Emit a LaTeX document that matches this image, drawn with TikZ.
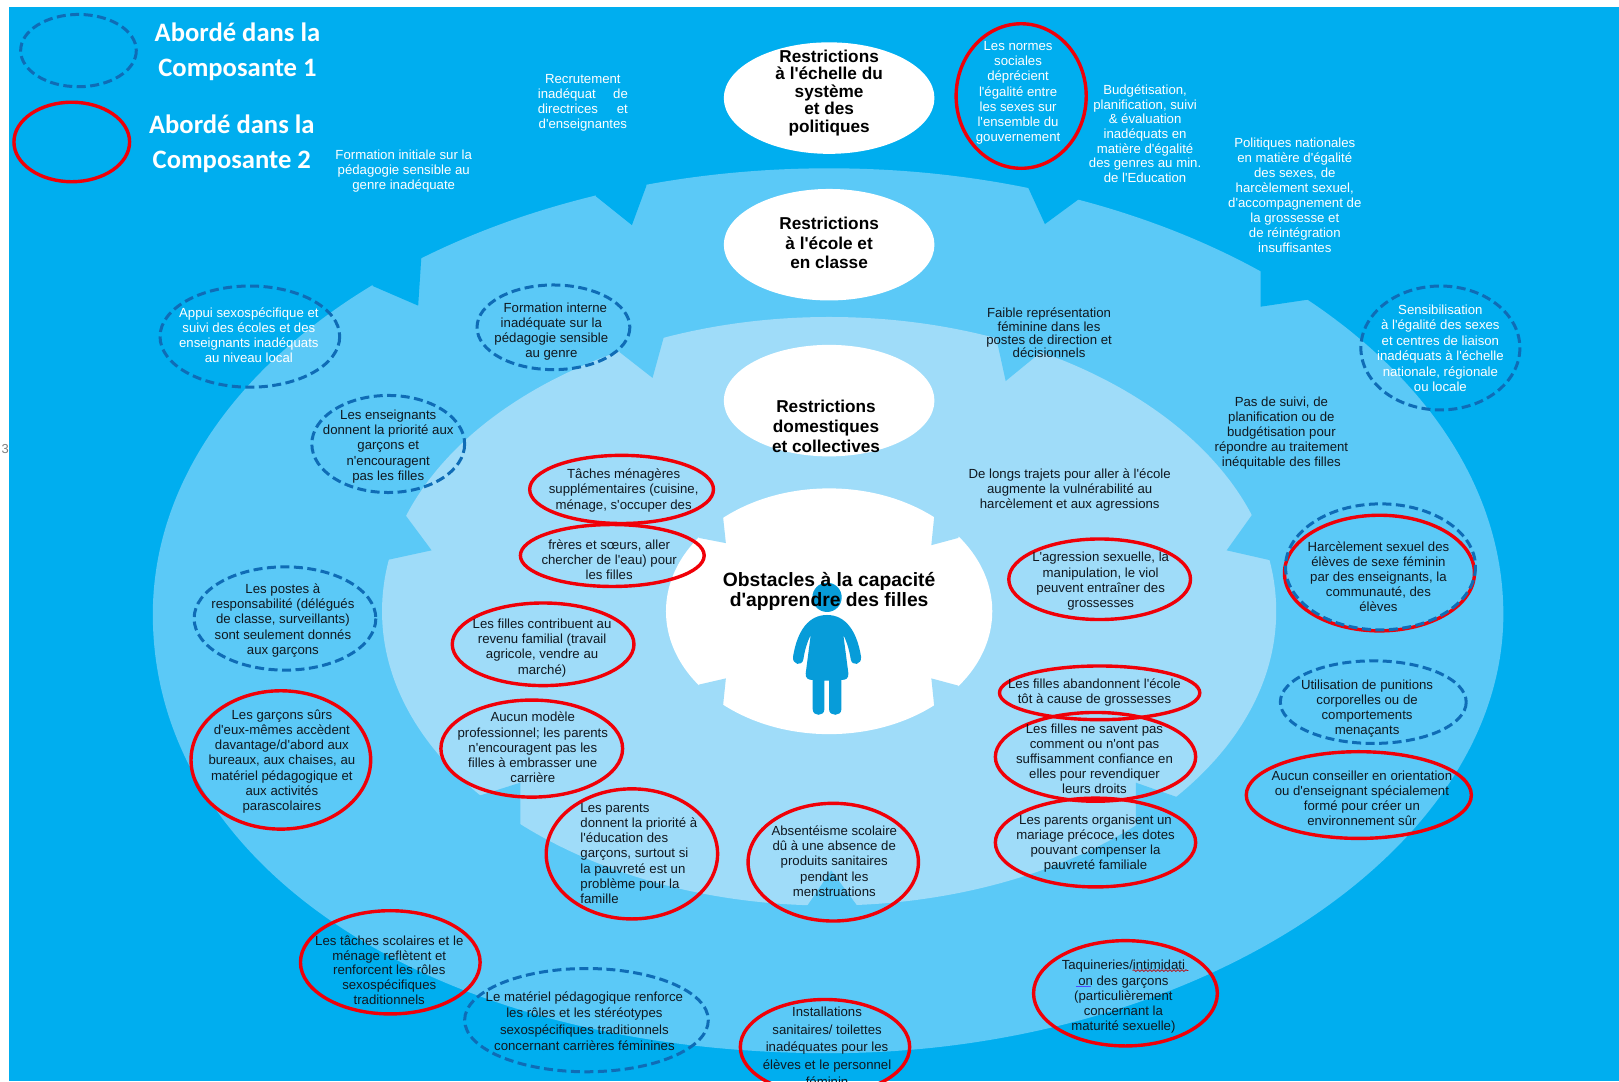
\documentclass[tikz,border=0pt]{standalone}
\usepackage{fontspec}
\setmainfont{Liberation Sans}[Ligatures=TeXOff]
\newfontfamily\calib{Carlito}
\usetikzlibrary{decorations.pathmorphing}
\definecolor{bgblue}{HTML}{00AEEF}
\definecolor{ringone}{HTML}{5BC9F7}
\definecolor{ringtwo}{HTML}{9FDCF9}
\definecolor{girl}{HTML}{079CD9}
\definecolor{dashblue}{HTML}{0F6CB6}
\definecolor{redline}{HTML}{F00008}
\definecolor{inktext}{HTML}{101820}
\tikzset{
  reddisc/.style={draw=redline,line width=3.4pt},
  dashdisc/.style={draw=dashblue,line width=3pt,dash pattern=on 9pt off 4.5pt},
  lab/.style={inner sep=0pt,align=center,yshift=-1.5pt,font=\fontsize{13.2}{15.2}\selectfont},
  blacklab/.style={lab,text=inktext},
  whitelab/.style={lab,text=white},
  headlab/.style={inner sep=0pt,align=center,text=black,font=\fontsize{17.2}{19.6}\bfseries\selectfont},
  legendlab/.style={inner sep=0pt,align=center,text=white,yshift=-2pt,font=\calib\fontsize{26.6}{35}\bfseries\selectfont},
  whiteoval/.style={fill=white,draw=none},
}
\begin{document}
\begin{tikzpicture}[x=1.03253pt,y=-1.03253pt]
\useasboundingbox (0,0) rectangle (1568,1047);
\clip (0,0) rectangle (1568,1047);
\fill[white] (0,0) rectangle (1568,1047);
\fill[bgblue] (9,7) rectangle (1568,1047);
% outer ring
\fill[ringone] (148,595) .. controls (148,356) and (441,163) .. (803,163)
  .. controls (1164,163) and (1456,356) .. (1456,595)
  .. controls (1456,825) and (1156,1020) .. (803,1020)
  .. controls (423,1020) and (148,842) .. (148,595) -- cycle;
\fill[bgblue] (577,190) -- (612,218) -- (626,180) -- (626,150) -- (577,150) -- cycle;
\fill[bgblue] (361,277) -- (405,296) -- (408,250) -- (408,230) -- (361,230) -- cycle;
\fill[bgblue] (995,180) -- (1012,217) -- (1046,192) -- (1046,150) -- (995,150) -- cycle;
\fill[bgblue] (1221,262) -- (1221,297) -- (1268,290) -- (1268,240) -- (1221,240) -- cycle;
% middle ring
\fill[ringtwo] (803,592) ellipse (433 and 285);
\fill[ringone] (600,341) -- (632,366) -- (643,326) -- (643,300) -- (600,300) -- cycle;
\fill[ringone] (965,328) -- (974,369) -- (1007,342) -- (1007,300) -- (965,300) -- cycle;
\fill[ringone] (392,498) -- (418,533) -- (372,543) -- (365,520) -- cycle;
\fill[ringone] (1213,498) -- (1188,533) -- (1232,543) -- (1240,520) -- cycle;
\fill[ringone] (463,771) -- (504,758) -- (504,830) -- (463,830) -- cycle;
\fill[ringone] (1140,772) -- (1100,758) -- (1100,830) -- (1140,830) -- cycle;
\fill[ringone] (782,877) -- (805,843) -- (830,877) -- (830,890) -- (782,890) -- cycle;
% centre
\fill[white] (803,592) ellipse (158 and 119);
\fill[ringtwo] (700,498) -- (703,526) -- (677,521) -- (672,505) -- cycle;
\fill[ringtwo] (905,498) -- (902,528) -- (928,521) -- (934,505) -- cycle;
\fill[ringtwo] (677,663) -- (703,657) -- (700,686) -- (672,680) -- cycle;
\fill[ringtwo] (928,664) -- (902,657) -- (905,686) -- (934,680) -- cycle;
% girl (units: reference pixels x 3)
\begin{scope}[shift={(619.9,445.5)},x=0.3333pt,y=-0.3333pt]
\fill[girl] (561,412) circle (44);
\fill[girl] (561,465) .. controls (615,465) and (650,510) .. (663,590)
  .. controls (666,615) and (636,620) .. (632,598)
  .. controls (628,570) and (620,545) .. (610,525)
  -- (625,640) .. controls (626,655) and (618,660) .. (604,660)
  -- (604,748) .. controls (604,770) and (567,770) .. (567,748)
  -- (567,662) -- (553,662)
  -- (553,748) .. controls (553,770) and (518,770) .. (518,748)
  -- (518,660) .. controls (504,660) and (496,655) .. (497,640)
  -- (512,525) .. controls (502,545) and (494,570) .. (490,598)
  .. controls (486,620) and (456,615) .. (459,590)
  .. controls (472,510) and (507,465) .. (561,465) -- cycle;
\end{scope}
% white ovals
\fill[whiteoval] (803,95) ellipse (102 and 54);
\fill[whiteoval] (803,237) ellipse (102 and 54);
\fill[whiteoval] (803,388) ellipse (102 and 54);
% outlines
\draw[dashdisc] (76,49) ellipse (56 and 35);
\draw[reddisc] (69.5,137.5) ellipse (56 and 38.5);
\draw[reddisc] (989,93) ellipse (63 and 70);
\draw[dashdisc] (242,326) ellipse (87 and 49);
\draw[dashdisc] (536,317) ellipse (74 and 41);
\draw[dashdisc] (1395,337) ellipse (77 and 60);
\draw[dashdisc] (376,430) ellipse (74 and 47);
\draw[reddisc] (602,474) ellipse (89 and 33);
\draw[reddisc] (593,538) ellipse (89 and 30);
\draw[dashdisc] (276,599) ellipse (88 and 50);
\draw[reddisc] (526,624) ellipse (88 and 40);
\draw[reddisc] (515,725) ellipse (88 and 47);
\draw[reddisc] (272,736) ellipse (87 and 67);
\draw[reddisc] (612,827) ellipse (83 and 63);
\draw[reddisc] (807,835) ellipse (82.5 and 57);
\draw[reddisc] (799,1014) ellipse (82 and 46);
\draw[reddisc] (378,932) ellipse (87 and 50);
\draw[dashdisc] (568,988) ellipse (118 and 50);
\draw[reddisc] (1090,962) ellipse (89 and 51);
\draw[reddisc] (1065,561) ellipse (88 and 39);
\draw[reddisc] (1065,671) ellipse (97 and 26);
\draw[reddisc] (1061,733) ellipse (97 and 43);
\draw[reddisc] (1061,816) ellipse (97 and 43);
\draw[reddisc] (1336,555) ellipse (92 and 56);
\draw[dashdisc] (1337,549) ellipse (92 and 61);
\draw[dashdisc] (1330,680) ellipse (90 and 40);
\draw[reddisc] (1316,770) ellipse (109 and 42);
% legend
\node[legendlab] (leg1) at (230,48) {Abordé dans la\\Composante 1};
\node[legendlab] (leg2) at (224.5,137) {Abordé dans la\\Composante 2};
% headings
\node[headlab,font=\fontsize{17.2}{17.4}\bfseries\selectfont] (sys) at (803,90) {Restrictions\\à l'échelle du\\système\\et des\\politiques};
\node[headlab] (ecole) at (803,235.5) {Restrictions\\à l'école et\\en classe};
\node[headlab] (dom) at (800,413) {Restrictions\\domestiques\\et collectives};
\node[headlab,font=\fontsize{19.3}{19.6}\bfseries\selectfont] (obst) at (803,572.5) {Obstacles à la capacité\\d'apprendre des filles};
% white labels
\node[whitelab] (t01) at (391,164) {Formation initiale sur la\\pédagogie sensible au\\genre inadéquate};
\node[whitelab] (t02) at (564.5,98) {\makebox[90pt][c]{Recrutement}\\\makebox[90pt][s]{inadéquat\hfill de}\\\makebox[90pt][s]{directrices\hfill et}\\\makebox[90pt][c]{d'enseignantes}};
\node[whitelab] (t03) at (986,88.5) {Les normes\\sociales\\déprécient\\l'égalité entre\\les sexes sur\\l'ensemble du\\gouvernement};
\node[whitelab,font=\fontsize{13.2}{14.7}\selectfont] (t04) at (1109,128) {Budgétisation,\\planification, suivi\\\& évaluation\\inadéquats en\\matière d'égalité\\des genres au min.\\de l'Education};
\node[whitelab,font=\fontsize{13.2}{15}\selectfont] (t05) at (1254,188) {Politiques nationales\\en matière d'égalité\\des sexes, de\\harcèlement sexuel,\\d'accompagnement de\\la grossesse et\\de réintégration\\insuffisantes};
\node[whitelab] (t06) at (241,323) {Appui sexospécifique et\\suivi des écoles et des\\enseignants inadéquats\\au niveau local};
\node[whitelab,font=\fontsize{13.2}{15.5}\selectfont] (t07) at (1395,336) {Sensibilisation\\à l'égalité des sexes\\et centres de liaison\\inadéquats à l'échelle\\nationale, régionale\\ou locale};
% dark labels
\node[blacklab] (t10) at (534,319.5) {\hspace{8pt}Formation interne\\inadéquate sur la\\pédagogie sensible\\au genre};
\node[blacklab,font=\fontsize{13.2}{13.2}\selectfont] (t11) at (1016,321) {Faible représentation\\féminine dans les\\postes de direction et\\décisionnels};
\node[blacklab] (t12) at (1241,418) {Pas de suivi, de\\planification ou de\\budgétisation pour\\répondre au traitement\\inéquitable des filles};
\node[blacklab] (t13) at (376,431) {Les enseignants\\donnent la priorité aux\\garçons et\\n'encouragent\\pas les filles};
\node[blacklab] (t14) at (604,473.5) {Tâches ménagères\\supplémentaires (cuisine,\\ménage, s'occuper des};
\node[blacklab] (t15) at (1036,473) {De longs trajets pour aller à l'école\\augmente la vulnérabilité au\\harcèlement et aux agressions};
\node[blacklab] (t16) at (590,540.5) {frères et sœurs, aller\\chercher de l'eau) pour\\les filles};
\node[blacklab] (t17) at (1066,561.5) {L'agression sexuelle, la\\manipulation, le viol\\peuvent entraîner des\\grossesses};
\node[blacklab] (t18) at (1335,557) {Harcèlement sexuel des\\élèves de sexe féminin\\par des enseignants, la\\communauté, des\\élèves};
\node[blacklab] (t19) at (274,599.5) {Les postes à\\responsabilité (délégués\\de classe, surveillants)\\sont seulement donnés\\aux garçons};
\node[blacklab] (t20) at (525,626) {Les filles contribuent au\\revenu familial (travail\\agricole, vendre au\\marché)};
\node[blacklab] (t21) at (1060,669) {Les filles abandonnent l'école\\tôt à cause de grossesses};
\node[blacklab] (t22) at (1324,685) {Utilisation de punitions\\corporelles ou de\\comportements\\menaçants};
\node[blacklab] (t23) at (1060,733.5) {Les filles ne savent pas\\comment ou n'ont pas\\suffisamment confiance en\\elles pour revendiquer\\leurs droits};
\node[blacklab] (t24) at (516,722.5) {Aucun modèle\\professionnel; les parents\\n'encouragent pas les\\filles à embrasser une\\carrière};
\node[blacklab] (t25) at (273,736) {Les garçons sûrs\\d'eux-mêmes accèdent\\davantage/d'abord aux\\bureaux, aux chaises, au\\matériel pédagogique et\\aux activités\\parascolaires};
\node[blacklab] (t26) at (1319,771.5) {Aucun conseiller en orientation\\ou d'enseignant spécialement\\formé pour créer un\\environnement sûr};
\node[blacklab,align=left,anchor=west] (t27) at (562,825) {Les parents\\donnent la priorité à\\l'éducation des\\garçons, surtout si\\la pauvreté est un\\problème pour la\\famille};
\node[blacklab] (t28) at (808,832.5) {Absentéisme scolaire\\dû à une absence de\\produits sanitaires\\pendant les\\menstruations};
\node[blacklab] (t29) at (1061,815.5) {Les parents organisent un\\mariage précoce, les dotes\\pouvant compenser la\\pauvreté familiale};
\node[blacklab,font=\fontsize{13.2}{14.7}\selectfont] (t30) at (377,938) {Les tâches scolaires et le\\ménage reflètent et\\renforcent les rôles\\sexospécifiques\\traditionnels};
\node[blacklab,font=\fontsize{13.2}{16.2}\selectfont] (t31) at (566,987.5) {Le matériel pédagogique renforce\\les rôles et les stéréotypes\\sexospécifiques traditionnels\\concernant carrières féminines};
\node[blacklab,font=\fontsize{13.2}{17.4}\selectfont] (t32) at (801,1012.5) {Installations\\sanitaires/ toilettes\\inadéquates pour les\\élèves et le personnel\\féminin};
\node[blacklab] (t33) at (1088,964) {Taquineries/intimidati\\on des garçons\\(particulièrement\\concernant la\\maturité sexuelle)};
\coordinate (sqA) at (1097,940);
\coordinate (sqB) at (1151,940);
\coordinate (unA) at (1042,955);
\coordinate (unB) at (1057,955);
\draw[redline!80!black,line width=0.7pt,decorate,decoration={snake,amplitude=0.9pt,segment length=4pt}] (sqA) -- (sqB);
\draw[blue!70!white,line width=0.7pt] (unA) -- (unB);
\node[inner sep=0pt,text=gray,font=\fontsize{13}{14}\selectfont] (pg) at (5,435) {3};
\end{tikzpicture}
\end{document}
